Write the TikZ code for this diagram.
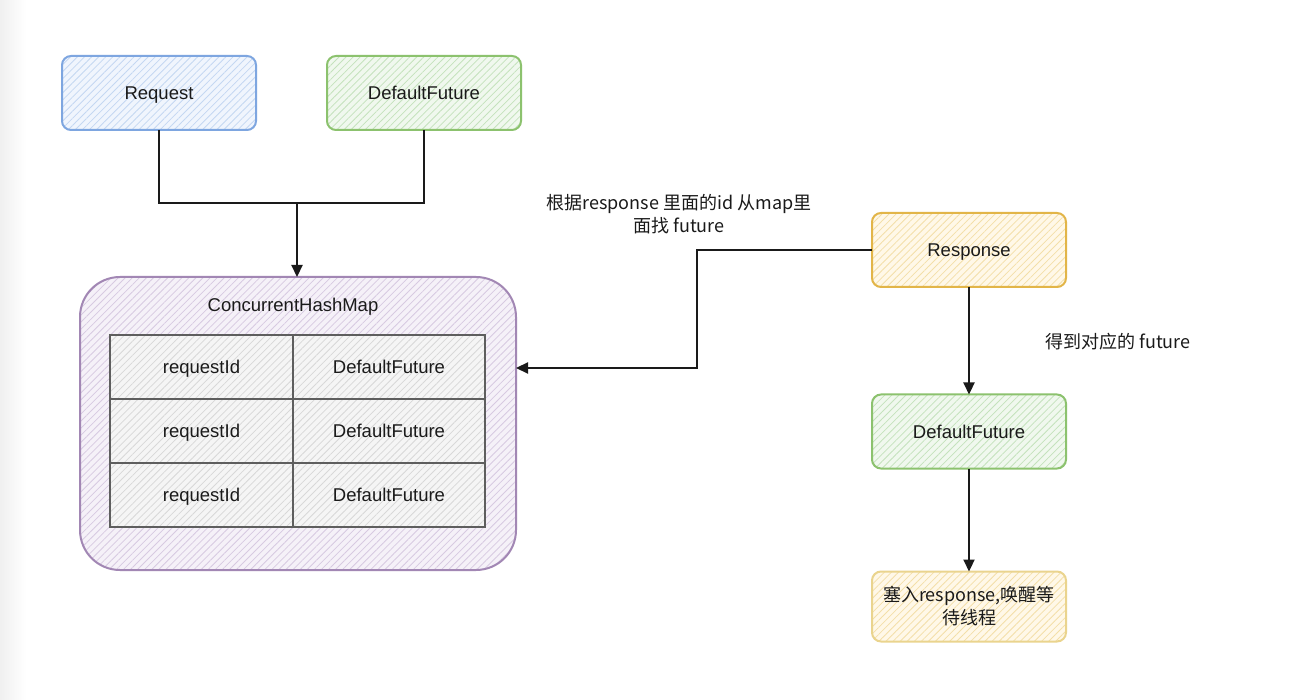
\documentclass[tikz,border=0pt]{standalone}
\usepackage{fontspec}
\setsansfont{Liberation Sans}
\newfontfamily\cjk{Noto Sans CJK SC}
\usetikzlibrary{arrows.meta,patterns.meta}
\definecolor{reqdraw}{HTML}{7EA6E0}
\definecolor{reqbg}{HTML}{F0F5FD}
\definecolor{reqhatch}{HTML}{C4D7F2}
\definecolor{grdraw}{HTML}{8CC26E}
\definecolor{grbg}{HTML}{F0F8EE}
\definecolor{grhatch}{HTML}{C4E2BC}
\definecolor{pudraw}{HTML}{A287B4}
\definecolor{pubg}{HTML}{F5F1F8}
\definecolor{puhatch}{HTML}{D7CAE1}
\definecolor{yedraw}{HTML}{E2B548}
\definecolor{yebg}{HTML}{FFF8E8}
\definecolor{yehatch}{HTML}{F3DFA8}
\definecolor{ye2draw}{HTML}{EAD48E}
\definecolor{tbdraw}{HTML}{5E5E5E}
\definecolor{tbbg}{HTML}{F5F5F5}
\definecolor{tbhatch}{HTML}{D8D8D8}
\definecolor{ink}{HTML}{1A1A1A}
\tikzset{
  hatched/.style 2 args={preaction={fill=#1},
    preaction={pattern={Lines[angle=45,distance=5pt,line width=0.8pt]},pattern color=#2}},
  box/.style={rounded corners=9pt, line width=2pt, minimum width=194pt,
    minimum height=74pt, inner sep=0pt, outer sep=0pt, align=center,
    font=\sffamily\fontsize{18.5}{23}\selectfont, text=ink},
  one/.style={text height=15pt, text depth=1.5pt},
  cell/.style={draw=tbdraw, line width=1.8pt, hatched={tbbg}{tbhatch},
    minimum height=64pt, inner sep=0pt, outer sep=0pt, one,
    font=\sffamily\fontsize{18.5}{23}\selectfont, text=ink},
  conn/.style={draw=ink, line width=2.2pt},
  arr/.style={conn, -{Triangle[length=12pt,width=11pt]}},
  lbl/.style={font=\cjk\fontsize{18}{23}\selectfont, text=ink, align=center, inner sep=0pt},
}
\begin{document}
\begin{tikzpicture}[x=1pt,y=-1pt]
\useasboundingbox (0,0) rectangle (1304,700);
\fill[white] (0,0) rectangle (1304,700);
\shade[left color=black!6, right color=white] (0,0) rectangle (26,700);

% top nodes
\node[box, one, draw=reqdraw, hatched={reqbg}{reqhatch}] (req) at (159,93) {Request};
\node[box, one, draw=grdraw, hatched={grbg}{grhatch}] (df1) at (424,93) {DefaultFuture};

% map container
\node[draw=pudraw, line width=2pt, rounded corners=40pt, hatched={pubg}{puhatch},
      minimum width=436pt, minimum height=293pt, inner sep=0pt, outer sep=0pt] (map) at (298,423.5) {};
\node[font=\sffamily\fontsize{18.5}{23}\selectfont, text=ink, one, inner sep=0pt] (maptitle) at (293,305) {ConcurrentHashMap};

% table
\node[cell, minimum width=183pt] (k1) at (201.5,367) {requestId};
\node[cell, minimum width=192pt] (v1) at (389,367) {DefaultFuture};
\node[cell, minimum width=183pt] (k2) at (201.5,431) {requestId};
\node[cell, minimum width=192pt] (v2) at (389,431) {DefaultFuture};
\node[cell, minimum width=183pt] (k3) at (201.5,495) {requestId};
\node[cell, minimum width=192pt] (v3) at (389,495) {DefaultFuture};

% right column
\node[box, one, draw=yedraw, hatched={yebg}{yehatch}] (resp) at (969,250) {Response};
\node[box, one, draw=grdraw, hatched={grbg}{grhatch}] (df2) at (969,431.5) {DefaultFuture};
\node[box, draw=ye2draw, hatched={yebg}{yehatch}, minimum height=70pt,
      font=\cjk\fontsize{18}{23}\selectfont] (fin) at (969,606.5) {塞入response,唤醒等\\待线程};

% connectors
\coordinate (join) at (297,203);
\draw[conn] (req.south) |- (join);
\draw[conn] (df1.south) |- (join);
\draw[arr] (join) -- (join |- map.north);

\coordinate (bend) at (697,368);
\coordinate (mapin) at (516,368);
\draw[arr] (resp.west) -| (bend) -- (mapin);

\draw[arr] (resp.south) -- (df2.north);
\draw[arr] (df2.south) -- (fin.north);

% labels
\node[lbl] (l1) at (679,214.5) {根据response 里面的id 从map里\\面找 future};
\node[lbl] (l2) at (1118,342) {得到对应的 future};
\end{tikzpicture}
\end{document}
